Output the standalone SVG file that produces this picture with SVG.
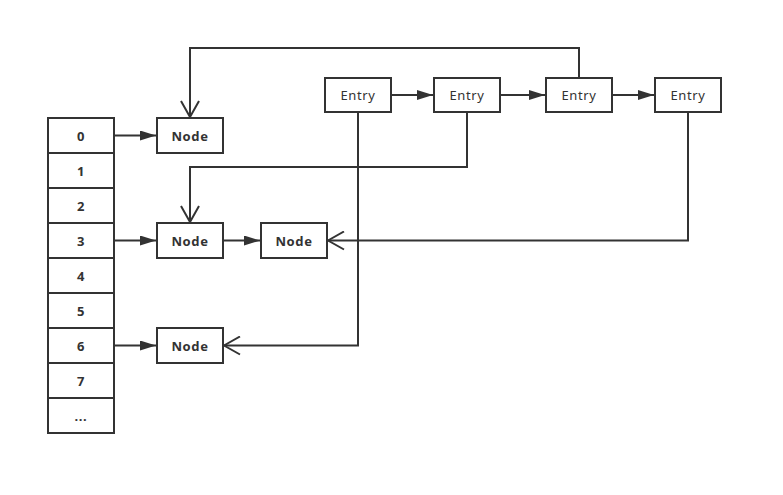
<svg xmlns="http://www.w3.org/2000/svg" width="783" height="495" viewBox="0 0 783 495">
<style>
rect{fill:#fff;stroke:#333;stroke-width:2}
text{font-family:"Noto Sans","Open Sans","DejaVu Sans",sans-serif;font-size:13px;letter-spacing:0.6px;fill:#333;text-anchor:middle;dominant-baseline:central}
.b{font-weight:bold}
.c{fill:none;stroke:#333;stroke-width:2}
</style>
<defs>
<marker id="f" viewBox="0 0 16 10" refX="16" refY="5" markerWidth="16" markerHeight="10" markerUnits="userSpaceOnUse" orient="auto"><path d="M0,0L16,5L0,10Z" fill="#333"/></marker>
<marker id="o" viewBox="0 0 18 20" refX="17" refY="10" markerWidth="18" markerHeight="20" markerUnits="userSpaceOnUse" orient="auto"><path d="M1,1L17,10L1,19" fill="none" stroke="#333" stroke-width="2"/></marker>
</defs>
<rect width="783" height="495" style="fill:#fff;stroke:none"/>
<g id="array">
<rect x="48" y="118" width="66" height="35"/><text class="b" x="81" y="135.5">0</text>
<rect x="48" y="153" width="66" height="35"/><text class="b" x="81" y="170.5">1</text>
<rect x="48" y="188" width="66" height="35"/><text class="b" x="81" y="205.5">2</text>
<rect x="48" y="223" width="66" height="35"/><text class="b" x="81" y="240.5">3</text>
<rect x="48" y="258" width="66" height="35"/><text class="b" x="81" y="275.5">4</text>
<rect x="48" y="293" width="66" height="35"/><text class="b" x="81" y="310.5">5</text>
<rect x="48" y="328" width="66" height="35"/><text class="b" x="81" y="345.5">6</text>
<rect x="48" y="363" width="66" height="35"/><text class="b" x="81" y="380.5">7</text>
<rect x="48" y="398" width="66" height="35"/><text class="b" x="81" y="415.5">...</text>
</g>
<g id="node0"><rect x="157" y="118" width="66" height="35"/><text class="b" x="190" y="135.5">Node</text></g>
<g id="node3a"><rect x="157" y="223" width="66" height="35"/><text class="b" x="190" y="240.5">Node</text></g>
<g id="node3b"><rect x="261" y="223" width="66" height="35"/><text class="b" x="294" y="240.5">Node</text></g>
<g id="node6"><rect x="157" y="328" width="66" height="35"/><text class="b" x="190" y="345.5">Node</text></g>
<g id="entry1"><rect x="325" y="78" width="66" height="34"/><text x="358" y="95">Entry</text></g>
<g id="entry2"><rect x="434" y="78" width="66" height="34"/><text x="467" y="95">Entry</text></g>
<g id="entry3"><rect x="546" y="78" width="66" height="34"/><text x="579" y="95">Entry</text></g>
<g id="entry4"><rect x="655" y="78" width="66" height="34"/><text x="688" y="95">Entry</text></g>
<g id="connectors">
<path class="c" d="M114,135.5H156" marker-end="url(#f)"/>
<path class="c" d="M114,240.5H156" marker-end="url(#f)"/>
<path class="c" d="M114,345.5H156" marker-end="url(#f)"/>
<path class="c" d="M223,240.5H260" marker-end="url(#f)"/>
<path class="c" d="M391,95H433" marker-end="url(#f)"/>
<path class="c" d="M500,95H545" marker-end="url(#f)"/>
<path class="c" d="M612,95H654" marker-end="url(#f)"/>
<path class="c" d="M579,78V48H190V117" marker-end="url(#o)"/>
<path class="c" d="M467,112V167H190V222" marker-end="url(#o)"/>
<path class="c" d="M358,112V345.5H224" marker-end="url(#o)"/>
<path class="c" d="M688,112V240.5H328" marker-end="url(#o)"/>
</g>
</svg>
